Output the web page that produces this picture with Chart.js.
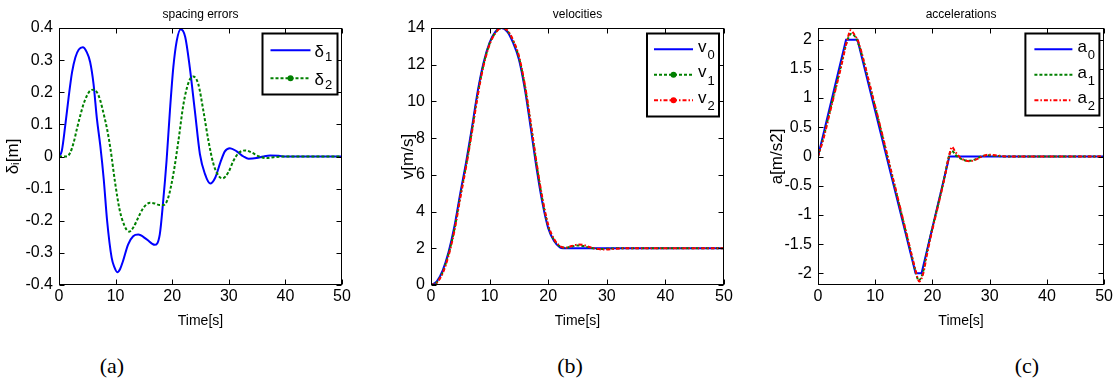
<!DOCTYPE html>
<html><head><meta charset="utf-8">
<script src="https://cdn.jsdelivr.net/npm/chart.js@4/dist/chart.umd.min.js"></script>
<style>
html,body{margin:0;padding:0;background:#fff;}
body{width:1115px;height:383px;position:relative;overflow:hidden;}
canvas{position:absolute;top:0;}
.cap{position:absolute;top:351px;width:60px;text-align:center;font-family:'Liberation Serif','Times New Roman',serif;font-size:22px;line-height:30px;color:#000;}
</style></head><body>
<canvas id="ca" width="370" height="345" style="left:0px"></canvas>
<canvas id="cb" width="370" height="345" style="left:370px"></canvas>
<canvas id="cc" width="375" height="345" style="left:740px"></canvas>
<div class="cap" style="left:82px">(a)</div>
<div class="cap" style="left:540px">(b)</div>
<div class="cap" style="left:997px">(c)</div>
<script>
// ---------- shared x axis ----------
const xTicks = [0, 10, 20, 30, 40, 50];
const xTickLabels = ['0', '10', '20', '30', '40', '50'];

// ---------- (a) spacing errors ----------
const tDelta1 = [0,0.5,1.1,1.7,2.3,2.9,3.5,4.2,4.9,5.5,6.1,6.7,7.3,7.9,8.5,9.3,9.8,10.3,10.8,11.3,12.2,13.1,14.0,15.5,16.9,17.8,18.4,19.0,19.6,20.2,20.8,21.5,22.3,23.1,24.0,24.9,25.8,26.7,27.6,28.5,29.3,30.2,31.4,32.6,33.5,34.9,36.1,37.3,38.8,40,50];
const delta1 = [0,0.018,0.096,0.184,0.262,0.309,0.333,0.34,0.325,0.294,0.226,0.117,0.033,-0.07,-0.2,-0.315,-0.345,-0.36,-0.35,-0.326,-0.274,-0.248,-0.243,-0.258,-0.275,-0.243,-0.14,-0.014,0.143,0.278,0.36,0.396,0.372,0.278,0.143,0.007,-0.055,-0.084,-0.066,-0.019,0.016,0.026,0.016,0,-0.007,-0.005,0,0.003,0.002,0,0];
const tDelta2 = [0,1.4,2.0,2.6,3.15,3.75,4.35,4.95,5.5,6.1,6.7,7.3,7.9,8.5,9.1,9.9,10.7,11.6,12.4,13.1,14.0,14.9,16.1,16.9,17.8,18.5,19.3,20.2,21.1,22.0,22.9,23.7,24.6,25.5,26.4,27.3,28.2,28.9,29.9,30.8,31.7,32.9,34.1,35.2,36.7,37.9,40,50];
const delta2 = [0,0,0.0125,0.044,0.085,0.127,0.164,0.19,0.205,0.208,0.2,0.174,0.132,0.085,0.023,-0.08,-0.165,-0.217,-0.234,-0.222,-0.19,-0.16,-0.144,-0.146,-0.151,-0.151,-0.128,-0.055,0.049,0.164,0.231,0.249,0.226,0.143,0.049,-0.024,-0.06,-0.068,-0.05,-0.014,0.01,0.019,0.012,0.001,-0.005,-0.002,0,0];
const yTicksA = [-0.4,-0.3,-0.2,-0.1,0,0.1,0.2,0.3,0.4];
const yTickLabelsA = ['-0.4','-0.3','-0.2','-0.1','0','0.1','0.2','0.3','0.4'];

// ---------- (b) velocities ----------
const tV0 = [0,1,2,3,4,5,6,7,8,9,10,11,12,13,14,15,16,17,18,19,20,21,22,22.5,50];
const v0 = [0,0.2,0.8,1.8,3.2,5.0,6.7,8.6,10.6,12.15,13.2,13.8,14.0,13.8,13.2,12.3,10.7,8.6,6.4,4.5,3.1,2.4,2.05,2.0,2.0];
const tV1 = [0,1,2,3,4,5,6,7,8,9,10,11,12,13,14,15,16,17,18,19,20,21,22,23,24,25,26,27,28,29,30,32,50];
const v1 = [0,0.15,0.7,1.7,3.05,4.85,6.55,8.45,10.45,12.05,13.15,13.75,14.0,13.85,13.3,12.4,10.85,8.8,6.6,4.65,3.2,2.45,2.1,2.03,2.1,2.15,2.12,2.04,1.98,1.96,1.97,2.0,2.0];
const tV2 = [0,1,2,3,4,5,6,7,8,9,10,11,12,13,14,15,16,17,18,19,20,21,22,23,24,25,26,27,28,29,30,31,33,50];
const v2 = [0,0.12,0.65,1.6,2.95,4.75,6.45,8.35,10.35,11.98,13.1,13.72,14.0,13.88,13.35,12.48,10.95,8.9,6.7,4.75,3.28,2.5,2.12,2.03,2.12,2.2,2.18,2.07,1.99,1.94,1.93,1.96,2.0,2.0];
const yTicksB = [0,2,4,6,8,10,12,14];
const yTickLabelsB = ['0','2','4','6','8','10','12','14'];

// ---------- (c) accelerations ----------
const tA0 = [0,4.9,6.9,17.05,18.1,22.95,50];
const a0 = [0,2,2,-2,-2,0,0];
const tA1 = [0,1,2,3,4,5,5.8,6.5,7,8,9,10,11,12,13,14,15,16,17,17.6,18.3,19,20,21,22,23,23.4,24,25,26.3,27.5,28.5,29.5,31,33,50];
const a1 = [0,0.35,0.75,1.15,1.55,1.95,2.1,2.05,1.95,1.62,1.23,0.84,0.45,0.05,-0.35,-0.75,-1.15,-1.55,-1.95,-2.12,-2.0,-1.65,-1.22,-0.82,-0.4,0.04,0.1,0.03,-0.04,-0.074,-0.05,0,0.02,0.01,0,0];
const tA2 = [0,1,2,3,4,5,5.7,6.4,7,8,9,10,11,12,13,14,15,16,17,17.7,18.4,19,20,21,22,23,23.4,24,25,26.5,27.7,28.7,29.8,31.5,33,50];
const a2 = [0,0.32,0.72,1.12,1.52,1.95,2.16,2.08,1.98,1.64,1.25,0.86,0.47,0.07,-0.33,-0.73,-1.13,-1.53,-1.93,-2.14,-2.0,-1.7,-1.25,-0.84,-0.42,0.05,0.165,0.08,-0.03,-0.08,-0.05,0,0.03,0.015,0,0];
const yTicksC = [-2,-1.5,-1,-0.5,0,0.5,1,1.5,2];
const yTickLabelsC = ['-2','-1.5','-1','-0.5','0','0.5','1','1.5','2'];

// ---------- styling / helpers ----------
const SANS = "'Liberation Sans', Arial, sans-serif";
Chart.defaults.font.family = SANS;
Chart.defaults.color = '#000';
const BLUE = 'rgb(0,0,255)', GREEN = 'rgb(0,128,0)', RED = 'rgb(255,0,0)';
const pts = (ts, vs) => ts.map((t, i) => ({x: t, y: vs[i]}));

const framePlugin = {
  id: 'matlabFrame',
  afterDatasetsDraw(chart) {
    const {ctx, chartArea: a, scales: {x, y}} = chart;
    ctx.save();
    ctx.strokeStyle = '#000'; ctx.lineWidth = 1; ctx.setLineDash([]);
    const L = Math.round(a.left) + 0.5, R = Math.round(a.right) - 0.5;
    const T = Math.round(a.top) + 0.5, B = Math.round(a.bottom) - 0.5;
    ctx.strokeRect(L, T, R - L, B - T);
    const len = 5;
    ctx.beginPath();
    x.ticks.forEach(t => {
      const p = Math.round(x.getPixelForValue(t.value)) + 0.5;
      ctx.moveTo(p, B); ctx.lineTo(p, B - len);
      ctx.moveTo(p, T); ctx.lineTo(p, T + len);
    });
    y.ticks.forEach(t => {
      const p = Math.round(y.getPixelForValue(t.value)) + 0.5;
      ctx.moveTo(L, p); ctx.lineTo(L + len, p);
      ctx.moveTo(R, p); ctx.lineTo(R - len, p);
    });
    ctx.stroke();
    ctx.restore();
  }
};

const SUB = {'\u2080': '0', '\u2081': '1', '\u2082': '2'};
const legendPlugin = {
  id: 'boxLegend',
  afterDraw(chart, args, o) {
    const {ctx, chartArea: a} = chart;
    const bx = a.right - o.right - o.width, by = a.top + o.top;
    ctx.save();
    ctx.fillStyle = '#fff'; ctx.fillRect(bx, by, o.width, o.height);
    ctx.strokeStyle = '#000'; ctx.lineWidth = 2; ctx.setLineDash([]);
    ctx.strokeRect(bx, by, o.width, o.height);
    chart.data.datasets.forEach((ds, i) => {
      const yy = by + o.rowStart + i * o.rowGap;
      const x0 = bx + o.sampleLeft, x1 = x0 + o.sampleLen;
      ctx.strokeStyle = ds.borderColor; ctx.lineWidth = ds.borderWidth;
      ctx.setLineDash(ds.borderDash || []);
      ctx.beginPath(); ctx.moveTo(x0, yy); ctx.lineTo(x1, yy); ctx.stroke();
      ctx.setLineDash([]);
      if (o.markers && o.markers[i]) {
        ctx.fillStyle = ds.borderColor;
        ctx.beginPath(); ctx.arc((x0 + x1) / 2, yy, 3, 0, Math.PI * 2); ctx.fill();
      }
      let base = '', sub = '';
      [...ds.label].forEach(c => { if (SUB[c]) sub += SUB[c]; else base += c; });
      ctx.fillStyle = '#000'; ctx.textAlign = 'left'; ctx.textBaseline = 'alphabetic';
      ctx.font = '17px ' + SANS;
      const tx = x1 + o.textGap;
      ctx.fillText(base, tx, yy + o.baseDy);
      const w = ctx.measureText(base).width;
      ctx.font = '13px ' + SANS;
      ctx.fillText(sub, tx + w + 1, yy + o.subDy);
    });
    ctx.restore();
  }
};

function makeChart(id, cfg) {
  const yT = cfg.yTicks, yL = cfg.yLabels;
  return new Chart(document.getElementById(id), {
    type: 'line',
    data: {datasets: cfg.datasets},
    options: {
      responsive: false, animation: false, devicePixelRatio: 1, events: [],
      layout: {padding: {left: 0, right: cfg.padRight, top: 0, bottom: 0}},
      elements: {point: {radius: 0}, line: {cubicInterpolationMode: 'monotone'}},
      plugins: {
        legend: {display: false}, tooltip: {enabled: false},
        title: {display: true, text: cfg.title, fullSize: false, color: '#000',
                font: {size: 12, weight: 'normal'}, padding: {top: 7, bottom: 6.6}},
        boxLegend: cfg.legend
      },
      scales: {
        x: {
          type: 'linear', min: 0, max: 50,
          afterBuildTicks: s => { s.ticks = xTicks.map(v => ({value: v})); },
          afterFit: s => { s.height = 60; },
          grid: {display: false, drawTicks: false}, border: {display: false},
          ticks: {color: '#000', font: {size: 16}, padding: 2, autoSkip: false, maxRotation: 0,
                  callback: v => xTickLabels[xTicks.indexOf(v)]},
          title: {display: true, text: 'Time[s]', color: '#000',
                  font: {family: "'Liberation Sans Narrow','Arial Narrow'," + SANS, size: 14},
                  padding: {top: 0, bottom: 15.6}}
        },
        y: {
          type: 'linear', min: cfg.yMin, max: cfg.yMax,
          afterBuildTicks: s => { s.ticks = yT.map(v => ({value: v})); },
          afterFit: s => { s.width = cfg.yWidth; },
          grid: {display: false, drawTicks: false}, border: {display: false},
          ticks: {color: '#000', font: {size: 16}, padding: 6, autoSkip: false,
                  callback: v => yL[yT.indexOf(v)]},
          title: {display: true, text: cfg.yTitle, color: '#000', font: {size: 17},
                  padding: {top: cfg.yTitlePad, bottom: 0}}
        }
      }
    },
    plugins: [framePlugin, legendPlugin]
  });
}

makeChart('ca', {
  title: 'spacing errors', yTitle: 'δᵢ[m]', yMin: -0.4, yMax: 0.4,
  yTicks: yTicksA, yLabels: yTickLabelsA, yWidth: 59, padRight: 28, yTitlePad: 2.8,
  legend: {right: 4.5, top: 5.5, width: 75, height: 61, rowStart: 16.7, rowGap: 28,
           sampleLeft: 8, sampleLen: 40, textGap: 4, baseDy: 7, subDy: 11, markers: [false, true]},
  datasets: [
    {label: 'δ₁', data: pts(tDelta1, delta1), borderColor: BLUE, borderWidth: 2, order: 2},
    {label: 'δ₂', data: pts(tDelta2, delta2), borderColor: GREEN, borderWidth: 2, borderDash: [3, 2], order: 1}
  ]
});

makeChart('cb', {
  title: 'velocities', yTitle: 'v[m/s]', yMin: 0, yMax: 14,
  yTicks: yTicksB, yLabels: yTickLabelsB, yWidth: 61, padRight: 16, yTitlePad: 27.8,
  legend: {right: 5, top: 5.5, width: 72, height: 83, rowStart: 15.7, rowGap: 25.5,
           sampleLeft: 7, sampleLen: 39, textGap: 5, baseDy: 2.5, subDy: 10, markers: [false, true, true]},
  datasets: [
    {label: 'v₀', data: pts(tV0, v0), borderColor: BLUE, borderWidth: 2, order: 3},
    {label: 'v₁', data: pts(tV1, v1), borderColor: GREEN, borderWidth: 2, borderDash: [3, 2], order: 2},
    {label: 'v₂', data: pts(tV2, v2), borderColor: RED, borderWidth: 2, borderDash: [4, 2, 1.5, 2], order: 1}
  ]
});

makeChart('cc', {
  title: 'accelerations', yTitle: 'a[m/s2]', yMin: -2.2, yMax: 2.2,
  yTicks: yTicksC, yLabels: yTickLabelsC, yWidth: 78, padRight: 8, yTitlePad: 26.8,
  legend: {right: 4.7, top: 5.5, width: 74, height: 82, rowStart: 15.7, rowGap: 25.5,
           sampleLeft: 9, sampleLen: 38, textGap: 5, baseDy: 3, subDy: 10, markers: [false, false, false]},
  datasets: [
    {label: 'a₀', data: pts(tA0, a0), borderColor: BLUE, borderWidth: 2, tension: 0, cubicInterpolationMode: 'default', order: 3},
    {label: 'a₁', data: pts(tA1, a1), borderColor: GREEN, borderWidth: 2, borderDash: [3, 2], order: 2},
    {label: 'a₂', data: pts(tA2, a2), borderColor: RED, borderWidth: 2, borderDash: [4, 2, 1.5, 2], order: 1}
  ]
});
</script>
</body></html>
